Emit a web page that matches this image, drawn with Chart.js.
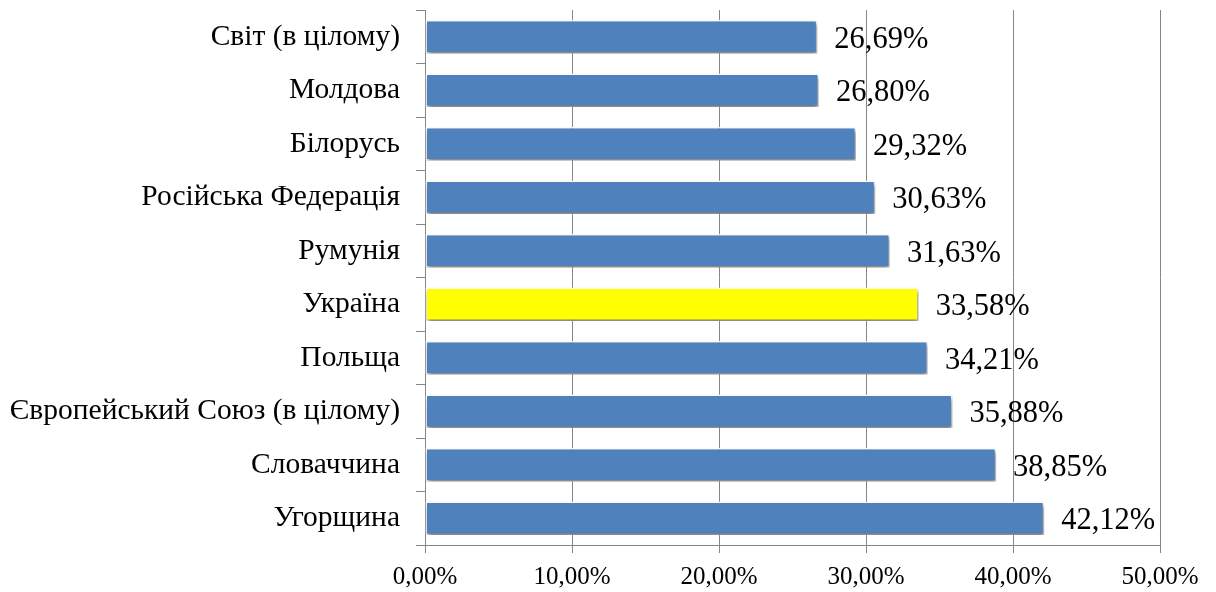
<!DOCTYPE html>
<html>
<head>
<meta charset="utf-8">
<script src="https://cdn.jsdelivr.net/npm/chart.js@4/dist/chart.umd.min.js"></script>
<style>
  body { margin: 0; background: #fff; }
</style>
</head>
<body>
<canvas id="myChart" width="1216" height="592"></canvas>
<script>
var countries = ['Світ (в цілому)', 'Молдова', 'Білорусь', 'Російська Федерація', 'Румунія',
  'Україна', 'Польща', 'Європейський Союз (в цілому)', 'Словаччина', 'Угорщина']
var shares = [26.69, 26.80, 29.32, 30.63, 31.63, 33.58, 34.21, 35.88, 38.85, 42.12]
var xTicks = [0, 10, 20, 30, 40, 50]

var fmt = function (v) { return v.toFixed(2).replace('.', ',') + '%' }
var barColors = countries.map(function (c) { return c === 'Україна' ? '#FFFF00' : '#4F81BD' })

// shadow under the bars + value labels to the right
var barExtras = {
  id: 'barExtras',
  beforeDatasetsDraw: function (chart) {
    var ctx = chart.ctx
    ctx.save()
    ctx.shadowColor = 'rgba(0,0,0,0.5)'
    ctx.shadowBlur = 4
    ctx.shadowOffsetX = 1
    ctx.shadowOffsetY = 3
  },
  afterDatasetsDraw: function (chart) {
    var ctx = chart.ctx
    ctx.restore()
    ctx.save()
    ctx.font = '30.5px "Liberation Serif"'
    ctx.fillStyle = '#000'
    ctx.textBaseline = 'middle'
    chart.getDatasetMeta(0).data.forEach(function (bar, i) {
      ctx.fillText(fmt(shares[i]), bar.x + 17, bar.y + 3)
    })
    ctx.restore()
  }
}

var ctx = document.getElementById('myChart').getContext('2d')
var chart = new Chart(ctx, {
  type: 'bar',
  data: {
    labels: countries,
    datasets: [{
      data: shares,
      backgroundColor: barColors,
      borderColor: '#ffffff',
      borderWidth: 1.5,
      borderSkipped: false,
      barPercentage: 0.63,
      categoryPercentage: 1
    }]
  },
  options: {
    indexAxis: 'y',
    responsive: false,
    animation: false,
    layout: { padding: { top: 10, right: 56, bottom: 0, left: 0 } },
    plugins: { legend: { display: false }, tooltip: { enabled: false } },
    scales: {
      x: {
        min: 0,
        max: 50,
        afterBuildTicks: function (scale) { scale.ticks = xTicks.map(function (v) { return { value: v } }) },
        afterFit: function (scale) { scale.height = 47 },
        grid: { color: '#868686', lineWidth: 1, tickLength: 8 },
        border: { display: true, color: '#868686' },
        ticks: {
          callback: function (v) { return fmt(v) },
          color: '#000',
          padding: 9,
          maxRotation: 0,
          font: { family: 'Liberation Serif', size: 25 }
        }
      },
      y: {
        afterFit: function (scale) {
          scale.width = 425
          scale.paddingTop = 0
          scale.paddingBottom = 0
        },
        grid: { offset: true, drawOnChartArea: false, color: '#868686', tickLength: 9 },
        border: { display: true, color: '#868686' },
        ticks: {
          color: '#000',
          padding: 16,
          font: { family: 'Liberation Serif', size: 29.5 }
        }
      }
    }
  },
  plugins: [barExtras]
})
</script>
</body>
</html>
